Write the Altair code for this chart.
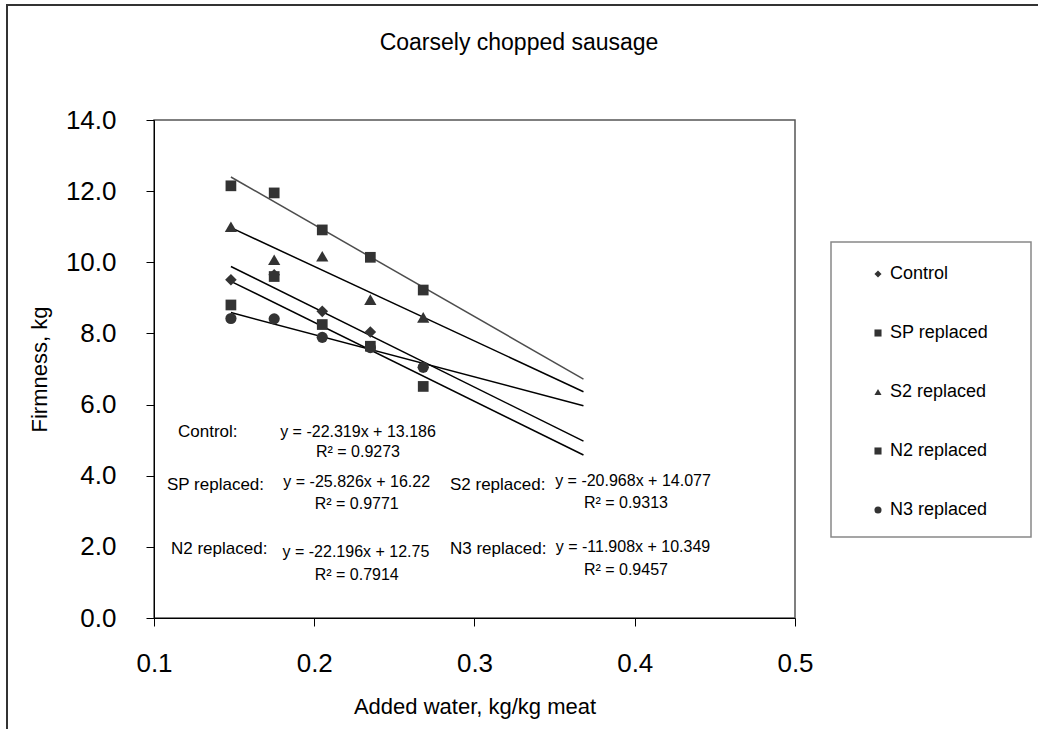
import altair as alt
import pandas as pd

# ---- data ----
x_vals = [0.148, 0.175, 0.205, 0.235, 0.268]
series_names = ["Control", "SP replaced", "S2 replaced", "N2 replaced", "N3 replaced"]
series_shapes = ["diamond", "square", "triangle-up", "square", "circle"]
marker_sizes = [135, 115, 150, 115, 125]
control = [9.51, 9.65, 8.62, 8.04, 7.05]
sp = [12.15, 11.95, 10.91, 10.14, 9.22]
s2 = [11.00, 10.07, 10.17, 8.95, 8.45]
n2 = [8.80, 9.60, 8.25, 7.64, 6.51]
n3 = [8.42, 8.41, 7.89, 7.60, 7.05]
series_values = [control, sp, s2, n2, n3]

# trendline equations printed on the chart
slopes = [-22.319, -25.826, -20.968, -22.196, -11.908]
intercepts = [13.186, 16.22, 14.077, 12.75, 10.349]
line_colors = ["#000000", "#4d4d4d", "#000000", "#000000", "#000000"]
trend_x = [0.148, 0.368]

ann_text = ["Control:", "SP replaced:", "S2 replaced:", "N2 replaced:", "N3 replaced:"]
ann_x = [0.1150, 0.1081, 0.2847, 0.1106, 0.2847]
ann_y = [5.218, 3.728, 3.728, 1.929, 1.929]
eq_text = ["y = -22.319x + 13.186", "y = -25.826x + 16.22", "y = -20.968x + 14.077",
           "y = -22.196x + 12.75", "y = -11.908x + 10.349"]
eq_x = [0.2273, 0.2265, 0.3989, 0.2260, 0.3989]
eq_y = [5.218, 3.812, 3.840, 1.844, 1.985]
r2_text = ["R² = 0.9273", "R² = 0.9771", "R² = 0.9313", "R² = 0.7914", "R² = 0.9457"]
r2_x = [0.2273, 0.2265, 0.3945, 0.2265, 0.3945]
r2_y = [4.656, 3.194, 3.222, 1.198, 1.338]

# ---- tables ----
pts = pd.DataFrame([
    {"x": xv, "y": yv, "series": name, "sz": sz}
    for name, sz, vals in zip(series_names, marker_sizes, series_values)
    for xv, yv in zip(x_vals, vals)
])
lines = pd.DataFrame([
    {"x": xv, "y": m * xv + b, "trend": name + " trend"}
    for name, m, b in zip(series_names, slopes, intercepts)
    for xv in trend_x
])
ann = pd.DataFrame({"t": ann_text, "x": ann_x, "y": ann_y})
eqs = pd.DataFrame({"t": eq_text + r2_text, "x": eq_x + r2_x, "y": eq_y + r2_y})

FONT = "Liberation Sans"

xscale = alt.Scale(domain=[0.1, 0.5], nice=False, zero=False)
yscale = alt.Scale(domain=[0, 14], nice=False)

xaxis = alt.Axis(values=[0.1, 0.2, 0.3, 0.4, 0.5], format=".1f", grid=False, labelFlush=False,
                 title="Added water, kg/kg meat", labelFontSize=26, titleFontSize=22,
                 labelFont=FONT, titleFont=FONT, titleFontWeight="normal",
                 labelColor="#000", titleColor="#000", domainColor="#000", tickColor="#000",
                 tickSize=8, labelPadding=24, titlePadding=20)
yaxis = alt.Axis(values=[0, 2, 4, 6, 8, 10, 12, 14], format=".1f", grid=False, labelFlush=False,
                 title="Firmness, kg", labelFontSize=26, titleFontSize=22,
                 labelFont=FONT, titleFont=FONT, titleFontWeight="normal",
                 labelColor="#000", titleColor="#000", domainColor="#000", tickColor="#000",
                 tickSize=8, labelPadding=30, titlePadding=14)

trend = alt.Chart(lines).mark_line(strokeWidth=1.5).encode(
    x=alt.X("x:Q", scale=xscale, axis=xaxis),
    y=alt.Y("y:Q", scale=yscale, axis=yaxis),
    detail="trend:N",
    stroke=alt.Stroke("trend:N",
                      scale=alt.Scale(domain=[n + " trend" for n in series_names], range=line_colors),
                      legend=None),
)

shape_legend = alt.Legend(title=None, orient="none", legendX=715, legendY=145,
                          labelFontSize=18, labelFont=FONT, labelColor="#000",
                          symbolSize=50, symbolFillColor="#333333",
                          symbolStrokeColor="#333333", symbolStrokeWidth=0,
                          rowPadding=41, labelOffset=3, padding=0)

points = alt.Chart(pts).mark_point(filled=True, opacity=1, color="#333333").encode(
    x="x:Q",
    y="y:Q",
    shape=alt.Shape("series:N", scale=alt.Scale(domain=series_names, range=series_shapes),
                    sort=series_names, legend=shape_legend),
    size=alt.Size("sz:Q", scale=None, legend=None),
)

labels = alt.Chart(ann).mark_text(align="left", baseline="middle", fontSize=17, font=FONT,
                                  color="#000").encode(x="x:Q", y="y:Q", text="t:N")
equations = alt.Chart(eqs).mark_text(align="center", baseline="middle", fontSize=16, font=FONT,
                                     color="#000").encode(x="x:Q", y="y:Q", text="t:N")

frame_df = pd.DataFrame({"k": [0]})
outer = alt.Chart(frame_df).mark_rect(fill=None, stroke="#333333", strokeWidth=2, clip=False).encode(
    x=alt.value(-147), x2=alt.value(900), y=alt.value(-115), y2=alt.value(640))
legend_box = alt.Chart(frame_df).mark_rect(fill=None, stroke="#888888", strokeWidth=1.5, clip=False).encode(
    x=alt.value(677), x2=alt.value(877), y=alt.value(122), y2=alt.value(417))
title_txt = alt.Chart(frame_df).mark_text(fontSize=23, font=FONT, color="#000", align="center",
                                          baseline="middle").encode(
    x=alt.value(365), y=alt.value(-77), text=alt.value("Coarsely chopped sausage"))

chart = alt.layer(outer, legend_box, trend, points, labels, equations, title_txt).properties(
    width=641, height=498,
    autosize=alt.AutoSizeParams(type="none"),
    padding={"left": 154, "top": 120, "right": 243, "bottom": 111},
    background="#ffffff",
).configure_view(stroke="#555555", strokeWidth=1.5)

chart.save("out.html", embed_options={"renderer": "svg", "actions": False})
